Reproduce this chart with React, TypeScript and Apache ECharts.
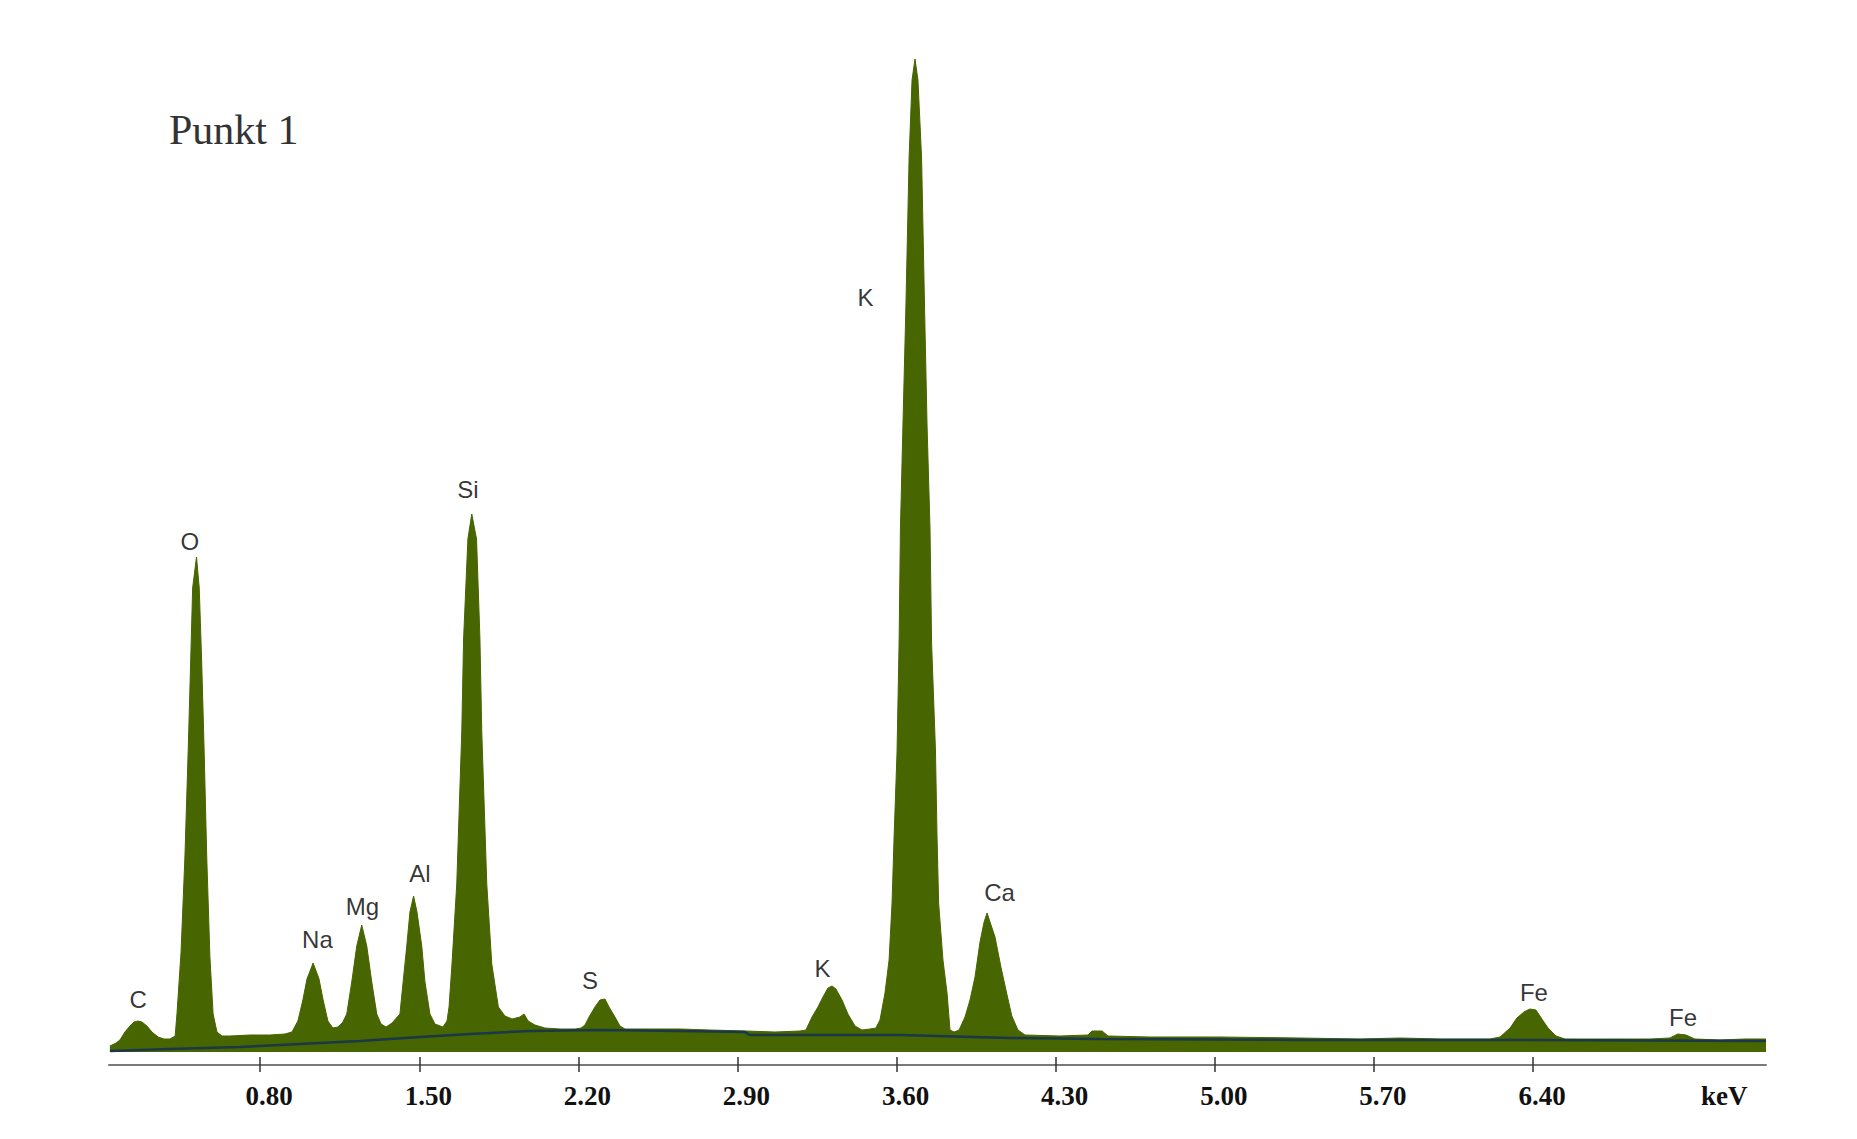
import React, { useEffect, useRef } from "react";
import * as echarts from "echarts";

// Spectrum (energy in keV, counts in arbitrary units)
const energy = [
  0.139, 0.166, 0.183, 0.205, 0.227, 0.245, 0.263, 0.280, 0.302, 0.324, 0.351, 0.377, 0.403,
  0.426, 0.434, 0.452, 0.469, 0.484, 0.494, 0.503, 0.520, 0.532, 0.543, 0.553, 0.565, 0.579, 0.593, 0.610, 0.632,
  0.667, 0.755, 0.843, 0.909,
  0.940, 0.966, 0.988, 1.006, 1.033, 1.059, 1.077, 1.098, 1.120, 1.142,
  1.164, 1.181, 1.203, 1.225, 1.247, 1.269, 1.291, 1.313, 1.332, 1.354,
  1.380, 1.415, 1.429, 1.445, 1.459, 1.475, 1.490, 1.511, 1.525, 1.547, 1.569, 1.604,
  1.622, 1.631, 1.644, 1.665, 1.687, 1.695, 1.714, 1.731, 1.752, 1.767, 1.775, 1.797, 1.819, 1.848,
  1.877, 1.908, 1.943, 1.961, 1.979, 2.009, 2.053, 2.119, 2.185,
  2.212, 2.229, 2.247, 2.273, 2.295, 2.317, 2.335, 2.361, 2.383, 2.405,
  2.515, 2.647, 2.779, 2.937, 3.065, 3.175,
  3.201, 3.228, 3.254, 3.276, 3.298, 3.316, 3.333, 3.360, 3.386, 3.417, 3.448, 3.483,
  3.509, 3.527, 3.549, 3.567, 3.580, 3.589, 3.602, 3.611, 3.617, 3.628, 3.641, 3.655, 3.668, 3.681,
  3.694, 3.710, 3.723, 3.734, 3.747, 3.754, 3.765, 3.771, 3.778, 3.785, 3.804, 3.822, 3.835, 3.853,
  3.875, 3.901, 3.923, 3.945, 3.967, 3.985, 3.998, 4.011, 4.033, 4.059, 4.086, 4.107, 4.134, 4.165,
  4.319, 4.442, 4.460, 4.504, 4.530, 4.715, 5.023, 5.375, 5.639, 5.815, 5.991, 6.211,
  6.255, 6.299, 6.329, 6.360, 6.386, 6.413, 6.439, 6.466, 6.501, 6.541,
  6.695, 6.915, 7.002, 7.037, 7.073, 7.112, 7.222, 7.332, 7.425,
];
const counts = [
  6, 9, 12, 20, 26, 30, 31, 30, 26, 20, 15, 13, 13,
  16, 38, 100, 195, 306, 388, 464, 495, 464, 388, 306, 195, 95, 38, 20, 16,
  16, 17, 17, 18,
  20, 31, 52, 73, 89, 73, 52, 31, 24, 25,
  30, 38, 70, 106, 127, 106, 70, 38, 28, 25,
  29, 38, 70, 106, 140, 156, 140, 106, 70, 38, 28, 25,
  31, 45, 88, 168, 320, 413, 513, 538, 513, 413, 320, 168, 88, 45,
  36, 33, 35, 38, 31, 27, 24, 23, 23,
  24, 27, 35, 45, 52, 53, 45, 35, 26, 23,
  23, 23, 22, 21, 20, 21,
  22, 35, 45, 55, 64, 66, 63, 52, 38, 26, 22, 23,
  24, 32, 59, 92, 149, 215, 300, 409, 524, 627, 745, 894, 972, 993,
  972, 894, 745, 627, 524, 409, 340, 302, 215, 149, 92, 59, 22, 20,
  22, 35, 52, 75, 110, 130, 139, 130, 115, 85, 57, 36, 22, 17,
  16, 17, 21, 21, 16, 15, 15, 14, 13, 14, 13, 13,
  15, 24, 34, 40, 43, 42, 33, 24, 16, 13,
  13, 13, 14, 18, 17, 13, 12, 13, 13,
];

// Background (continuum fit) line
const bgEnergy = [0.139, 0.403, 0.711, 0.975, 1.239, 1.503, 1.723, 1.987, 2.295, 2.647, 2.933, 2.954, 3.615, 4.099, 4.495, 5.375, 6.255, 7.425];
const bgCounts = [1, 3, 5, 8, 11, 15, 18, 21, 22, 21, 20, 17, 17, 14, 13, 12, 12, 11];

// Peak labels
const peakNames = ["C", "O", "Na", "Mg", "Al", "Si", "S", "K", "K", "Ca", "Fe", "Fe"];
const peakLabelEnergy = [0.263, 0.491, 1.052, 1.250, 1.503, 1.714, 2.251, 3.274, 3.463, 4.053, 6.404, 7.060];
const peakLabelCounts = [53, 511, 113, 146, 179, 563, 72, 84, 755, 160, 60, 35];

// Axis ticks
const tickValues = [0.8, 1.5, 2.2, 2.9, 3.6, 4.3, 5.0, 5.7, 6.4];
const axisUnit = "keV";
const chartTitle = "Punkt 1";

export default function App() {
  const ref = useRef<HTMLDivElement>(null);

  useEffect(() => {
    document.body.style.margin = "0";
    const chart = echarts.init(ref.current!, undefined, { renderer: "svg" });
    const spectrum = energy.map((e, i) => [e, counts[i]]);
    const background = bgEnergy.map((e, i) => [e, bgCounts[i]]);
    const labels = peakNames.map((n, i) => ({ name: n, value: [peakLabelEnergy[i], peakLabelCounts[i]] }));
    const green = "#476500";

    chart.setOption({
      animation: false,
      backgroundColor: "#ffffff",
      title: {
        text: chartTitle,
        left: 169,
        top: 109,
        padding: 0,
        textStyle: {
          fontFamily: "Liberation Serif",
          fontWeight: "normal",
          fontSize: 42,
          color: "#333333",
        },
      },
      grid: { left: 109, right: 91, top: 57, bottom: 87 },
      xAxis: [
        {
          type: "value",
          min: 0.135,
          max: 7.425,
          offset: 13,
          splitLine: { show: false },
          axisLine: { show: true, onZero: false, lineStyle: { color: "#7a7a7a", width: 2 } },
          axisTick: {
            show: true,
            customValues: tickValues,
            length: 7,
            lineStyle: { color: "#333333", width: 1.5 },
          },
          axisLabel: {
            show: true,
            customValues: tickValues,
            margin: 17,
            padding: [0, 0, 0, 18],
            formatter: (v: number) => v.toFixed(2),
            fontFamily: "Liberation Serif",
            fontWeight: "bold",
            fontSize: 27,
            color: "#111111",
          },
        },
        {
          type: "value",
          min: 0.135,
          max: 7.425,
          offset: 13,
          position: "bottom",
          splitLine: { show: false },
          axisLine: { show: false, onZero: false },
          axisLabel: { show: false },
          axisTick: {
            show: true,
            inside: true,
            customValues: tickValues,
            length: 8,
            lineStyle: { color: "#333333", width: 1.5 },
          },
        },
      ],
      yAxis: {
        type: "value",
        min: 0,
        max: 995,
        show: false,
        splitLine: { show: false },
      },
      graphic: [
        {
          type: "text",
          left: 1701,
          top: 1082,
          style: {
            text: axisUnit,
            font: "bold 27px 'Liberation Serif'",
            fill: "#111111",
          },
        },
      ],
      series: [
        {
          type: "line",
          data: spectrum,
          showSymbol: false,
          symbol: "none",
          lineStyle: { color: green, width: 1 },
          areaStyle: { color: green, opacity: 1 },
          z: 2,
        },
        {
          type: "line",
          data: background,
          showSymbol: false,
          symbol: "none",
          lineStyle: { color: "#1a3848", width: 2.5 },
          z: 3,
        },
        {
          type: "scatter",
          data: labels,
          symbolSize: 0,
          z: 4,
          label: {
            show: true,
            position: "inside",
            formatter: "{b}",
            fontFamily: "Liberation Sans",
            fontSize: 24,
            color: "#000000",
          },
        },
      ],
    });
    return () => chart.dispose();
  }, []);

  return <div ref={ref} style={{ width: 1857, height: 1139 }} />;
}
